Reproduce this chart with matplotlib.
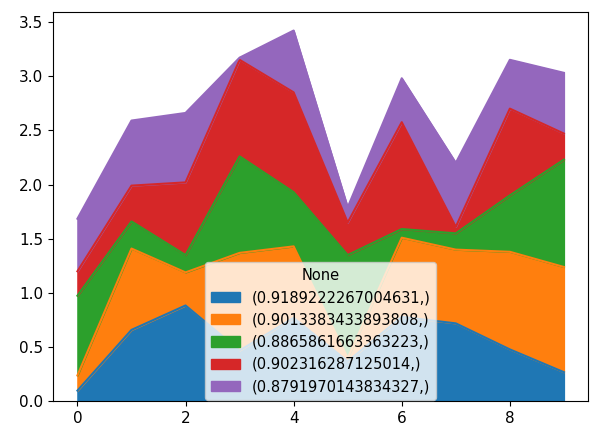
import pandas as pd
import matplotlib
matplotlib.use("Agg")
import matplotlib.pyplot as plt

x = list(range(10))

# one list per stacked layer (bottom to top)
blue = [0.10, 0.66, 0.885, 0.47, 0.77, 0.37, 0.78, 0.72, 0.48, 0.27]
orange = [0.14, 0.75, 0.305, 0.90, 0.66, 0.03, 0.73, 0.68, 0.90, 0.97]
green = [0.735, 0.25, 0.16, 0.89, 0.50, 0.95, 0.08, 0.15, 0.52, 0.99]
red = [0.225, 0.33, 0.67, 0.89, 0.92, 0.30, 0.985, 0.06, 0.80, 0.24]
purple = [0.485, 0.60, 0.64, 0.02, 0.57, 0.14, 0.405, 0.59, 0.45, 0.56]

labels = [
    "(0.9189222267004631,)",
    "(0.9013383433893808,)",
    "(0.8865861663363223,)",
    "(0.902316287125014,)",
    "(0.8791970143834327,)",
]

df = pd.DataFrame(dict(zip(labels, [blue, orange, green, red, purple])), index=x)

plt.rcParams['font.size'] = 11
fig = plt.figure(figsize=(5.9, 4.28), dpi=100)
ax = fig.add_axes([0.09, 0.062, 0.907, 0.91])
df.plot.area(ax=ax)
ax.legend(title="None", loc="lower center", fontsize=10.5, title_fontsize=10.5,
          borderaxespad=0.1)

fig.savefig("out.png", dpi=100)
